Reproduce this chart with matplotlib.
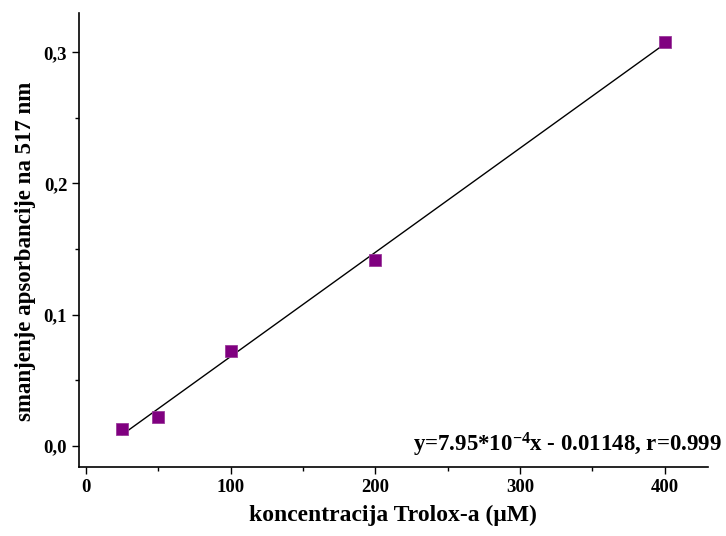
import matplotlib
matplotlib.use('Agg')
from matplotlib import pyplot as plt
from matplotlib.ticker import FuncFormatter, MultipleLocator
import numpy as np

# Trolox calibration data
conc = [25, 50, 100, 200, 400]
absorb = [0.013, 0.022, 0.072, 0.142, 0.308]

# linear fit as given on the chart
slope = 7.95e-4
intercept = -0.01148
fit_x = np.array([25, 400])
fit_y = slope * fit_x + intercept

plt.rcParams['font.family'] = 'Liberation Serif'
plt.rcParams['font.weight'] = 'bold'
plt.rcParams['mathtext.fontset'] = 'custom'
plt.rcParams['mathtext.rm'] = 'Liberation Serif:bold'
plt.rcParams['mathtext.bf'] = 'Liberation Serif:bold'
plt.rcParams['mathtext.default'] = 'bf'

fig = plt.figure(figsize=(7.26, 5.36), dpi=100)
ax = fig.add_axes([0.1088, 0.1293, 0.8662, 0.8464])

ax.plot(fit_x, fit_y, color='black', linewidth=1)
ax.plot(conc, absorb, linestyle='none', marker='s', markersize=8.5,
        color='#800080', markeredgecolor='#9a3a9a', markeredgewidth=0.6)

ax.set_xlim(-4.8, 429.7)
ax.set_ylim(-0.016, 0.330)

ax.xaxis.set_major_locator(MultipleLocator(100))
ax.xaxis.set_minor_locator(MultipleLocator(50))
ax.yaxis.set_major_locator(MultipleLocator(0.1))
ax.yaxis.set_minor_locator(MultipleLocator(0.05))
ax.yaxis.set_major_formatter(FuncFormatter(lambda v, p: f'{v:.1f}'.replace('.', ',')))

for s in ['top', 'right']:
    ax.spines[s].set_visible(False)
for s in ['left', 'bottom']:
    ax.spines[s].set_linewidth(1.2)

ax.tick_params(which='major', direction='out', length=5, width=1, labelsize=13.5)
ax.tick_params(which='minor', direction='out', length=3, width=1)

ax.set_xlabel('koncentracija Trolox-a (μM)', fontsize=17, fontweight='bold')
ax.set_ylabel('smanjenje apsorbancije na 517 nm', fontsize=16.5, fontweight='bold', va='center')
ax.xaxis.set_label_coords(0.499, -0.085)
ax.yaxis.set_label_coords(-0.085, 0.474)

ax.text(722 / 726, 0.158, r'y=7.95*10$^{-4}$x - 0.01148, r=0.999', transform=fig.transFigure,
        ha='right', va='baseline', fontsize=16.5, fontweight='bold')

plt.savefig('out.png', dpi=100)
plt.close()
